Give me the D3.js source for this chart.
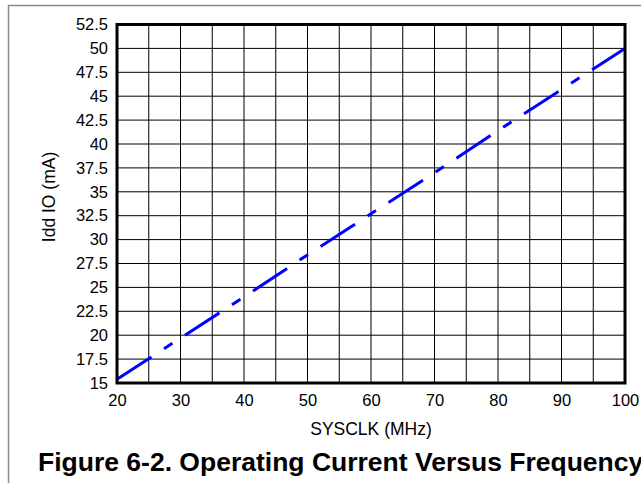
<!DOCTYPE html>
<html><head><meta charset="utf-8">
<script src="https://cdn.jsdelivr.net/npm/d3@7"></script>
<style>html,body{margin:0;padding:0;background:#fff;}svg{display:block;}</style>
</head><body>
<script>
const freqMHz = [20, 30, 40, 50, 60, 70, 80, 90, 100];
const iddIO = [15.4, 19.7, 24.0, 28.4, 32.7, 37.0, 41.4, 45.7, 50.0];
const xTicks = [20, 30, 40, 50, 60, 70, 80, 90, 100];
const yTicks = [15, 17.5, 20, 22.5, 25, 27.5, 30, 32.5, 35, 37.5, 40, 42.5, 45, 47.5, 50, 52.5];
const xGrid = d3.range(20, 100.01, 5);
const xLabel = "SYSCLK (MHz)";
const yLabel = "Idd IO (mA)";
const title = "Figure 6-2. Operating Current Versus Frequency";

const W = 641, H = 483;
const svg = d3.select("body").append("svg").attr("width", W).attr("height", H);
const font = "Liberation Sans, Arial, Helvetica, sans-serif";

svg.append("rect").attr("x", 8.5).attr("y", 5.5).attr("width", 700).attr("height", 600)
  .attr("fill", "none").attr("stroke", "#8a8a8a").attr("stroke-width", 1.5);

const x = d3.scaleLinear().domain([20, 100]).range([117, 625]);
const y = d3.scaleLinear().domain([15, 52.5]).range([383, 24.5]);

const g = svg.append("g");
g.selectAll("line.vg").data(xGrid).enter().append("line")
  .attr("x1", d => x(d)).attr("x2", d => x(d)).attr("y1", y(15)).attr("y2", y(52.5))
  .attr("stroke", "#000").attr("stroke-width", 1);
g.selectAll("line.hg").data(yTicks).enter().append("line")
  .attr("y1", d => y(d)).attr("y2", d => y(d)).attr("x1", x(20)).attr("x2", x(100))
  .attr("stroke", "#000").attr("stroke-width", 1);

const line = d3.line().x((d, i) => x(freqMHz[i])).y(d => y(d));
svg.append("path").datum(iddIO).attr("d", line).attr("fill", "none")
  .attr("stroke", "#0000ff").attr("stroke-width", 3)
  .attr("stroke-dasharray", "41,15,10,15");

svg.append("rect").attr("x", x(20)).attr("y", y(52.5)).attr("width", x(100) - x(20)).attr("height", y(15) - y(52.5))
  .attr("fill", "none").attr("stroke", "#000").attr("stroke-width", 3);

const yAxis = d3.axisLeft(y).tickValues(yTicks).tickFormat(d => String(d)).tickSize(0).tickPadding(9);
const ya = svg.append("g").attr("transform", `translate(${x(20)},0)`).call(yAxis);
ya.select(".domain").remove();
ya.selectAll("text").attr("font-family", font).attr("font-size", 16.5).attr("fill", "#000");

const xAxis = d3.axisBottom(x).tickValues(xTicks).tickFormat(d => String(d)).tickSize(0).tickPadding(11);
const xa = svg.append("g").attr("transform", `translate(0,${y(15)})`).call(xAxis);
xa.select(".domain").remove();
xa.selectAll("text").attr("font-family", font).attr("font-size", 16.5).attr("fill", "#000");

svg.append("text").attr("x", (x(20) + x(100)) / 2).attr("y", 435).attr("text-anchor", "middle")
  .attr("font-family", font).attr("font-size", 17.5).text(xLabel);
svg.append("text").attr("transform", `translate(55,197) rotate(-90)`).attr("text-anchor", "middle")
  .attr("font-family", font).attr("font-size", 17.5).text(yLabel);
svg.append("text").attr("x", 38).attr("y", 471).attr("font-family", font)
  .attr("font-weight", "bold").attr("font-size", 26.5).text(title);
</script>
</body></html>
